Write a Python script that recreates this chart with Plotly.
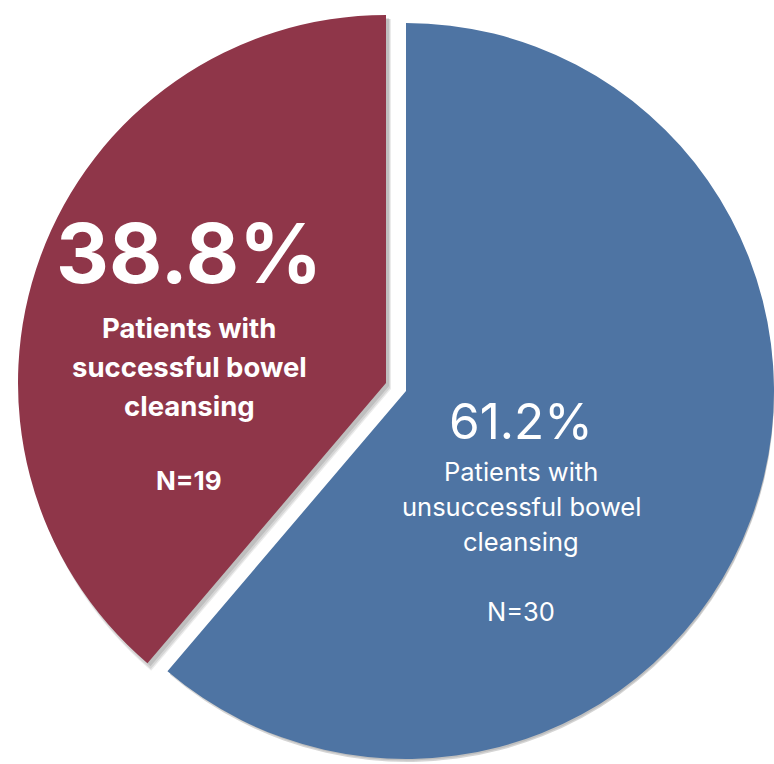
import plotly.graph_objects as go

# ---- data ----
labels = ["Patients with unsuccessful bowel cleansing", "Patients with successful bowel cleansing"]
counts = [30, 19]
colors = ["#4E74A3", "#8F3649"]

W, H = 774, 764
R = 368
centers = [(406, 391), (386, 383)]  # blue (whole pie) centre, pulled-out red slice centre

total = sum(counts)
pcts = [c / total * 100 for c in counts]


def dom(cx, cy, r):
    x0, x1 = (cx - r) / W, (cx + r) / W
    y0, y1 = 1 - (cy + r) / H, 1 - (cy - r) / H
    clip = lambda v: max(0.0, min(1.0, v))
    return dict(x=[clip(x0), clip(x1)], y=[clip(y0), clip(y1)])


def slice_colors(i, col):
    return [col if j == i else "rgba(0,0,0,0)" for j in range(len(counts))]


fig = go.Figure()

# soft drop shadows
for i in range(len(counts)):
    cx, cy = centers[i]
    for dx, dy, dr, op in [(5, 6, 2, 0.10), (4, 5, 1, 0.12), (3, 3, 0, 0.14)]:
        fig.add_trace(go.Pie(
            labels=labels, values=counts, sort=False, direction="clockwise", rotation=0,
            marker=dict(colors=slice_colors(i, f"rgba(60,60,60,{op})"), line=dict(width=0)),
            textinfo="none", hoverinfo="skip", showlegend=False,
            domain=dom(cx + dx, cy + dy, R + dr)))

# slices
for i in range(len(counts)):
    cx, cy = centers[i]
    fig.add_trace(go.Pie(
        labels=labels, values=counts, sort=False, direction="clockwise", rotation=0,
        marker=dict(colors=slice_colors(i, colors[i]), line=dict(width=0)),
        textinfo="none", hoverinfo="label+value+percent", showlegend=False,
        domain=dom(cx, cy, R)))

FONT = "Inter"


def ann(text, px, py, size, bold):
    t = f"<b>{text}</b>" if bold else text
    fig.add_annotation(x=px / W, y=1 - py / H, xref="paper", yref="paper",
                       text=t, showarrow=False, xanchor="center", yanchor="middle",
                       font=dict(family=FONT, size=size, color="white"))


# red (successful) block
rx = 189
ann(f"{pcts[1]:.1f}%", rx, 253, 82, True)
for k, line in enumerate(["Patients with", "successful bowel", "cleansing"]):
    ann(line, rx, 328 + 39 * k, 27.5, True)
ann(f"N={counts[1]}", rx, 480, 26, True)

# blue (unsuccessful) block
bx = 521
ann(f"{pcts[0]:.1f}%", bx, 421, 49.5, False)
for k, line in enumerate(["Patients with", "unsuccessful bowel", "cleansing"]):
    ann(line, bx, 471 + 35 * k, 25.5, False)
ann(f"N={counts[0]}", bx, 611, 25.5, False)

fig.update_layout(width=W, height=H, margin=dict(l=0, r=0, t=0, b=0),
                  paper_bgcolor="white", plot_bgcolor="white")

fig.write_html("out.html")
